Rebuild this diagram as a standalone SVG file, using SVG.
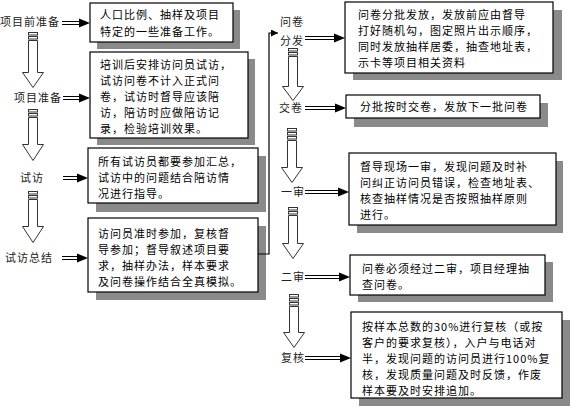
<svg xmlns="http://www.w3.org/2000/svg" width="570" height="408" viewBox="0 0 570 408">
<defs>
<style>
.box{fill:#fff;stroke:#000;stroke-width:1.2}
.sh{fill:#8a8a8a}
.t{font-family:"Noto Sans CJK SC","Noto Sans",sans-serif;font-size:11px;letter-spacing:1px;fill:#000}
.lb{font-family:"Noto Sans CJK SC","Noto Sans",sans-serif;font-size:11px;letter-spacing:1px;fill:#222}
.dl{stroke:#000;stroke-width:1;fill:none}
.hd{fill:#000}
.da{fill:#fff;stroke:#333;stroke-width:1}
.fb{fill:none;stroke:#000;stroke-width:1.2}
</style>
<marker id="ah" viewBox="0 0 10 10" refX="10" refY="5" markerWidth="7" markerHeight="7" orient="auto" markerUnits="userSpaceOnUse">
<path d="M0,0 L10,5 L0,10 z" fill="#000"/>
</marker>
</defs>
<rect width="570" height="408" fill="#fff"/>

<!-- nodes: left column -->
<g id="n1">
<rect class="sh" x="97" y="10" width="143" height="39"/>
<rect class="box" x="90" y="3" width="143" height="39"/>
<text class="t" x="100" y="19">人口比例、抽样及项目</text>
<text class="t" x="100" y="36">特定的一些准备工作。</text>
</g>
<g id="n2">
<rect class="sh" x="97" y="59" width="158" height="86"/>
<rect class="box" x="90" y="52" width="158" height="86"/>
<text class="t" x="100" y="69">培训后安排访问员试访，</text>
<text class="t" x="100" y="85">试访问卷不计入正式问</text>
<text class="t" x="100" y="101">卷，试访时督导应该陪</text>
<text class="t" x="100" y="117">访，陪访时应做陪访记</text>
<text class="t" x="100" y="133">录，检验培训效果。</text>
</g>
<g id="n3">
<rect class="sh" x="96" y="156" width="170" height="56"/>
<rect class="box" x="88" y="148" width="170" height="55"/>
<text class="t" x="98" y="166">所有试访员都要参加汇总，</text>
<text class="t" x="98" y="182">试访中的问题结合陪访情</text>
<text class="t" x="98" y="198">况进行指导。</text>
</g>
<g id="n4">
<rect class="sh" x="96" y="226" width="170" height="74"/>
<rect class="box" x="88" y="218" width="170" height="74"/>
<text class="t" x="98" y="238">访问员准时参加，复核督</text>
<text class="t" x="98" y="254">导参加；督导叙述项目要</text>
<text class="t" x="98" y="270">求，抽样办法，样本要求</text>
<text class="t" x="98" y="286">及问卷操作结合全真模拟。</text>
</g>

<!-- nodes: right column -->
<g id="n5">
<rect class="sh" x="353" y="10" width="209" height="70"/>
<rect class="box" x="345" y="2" width="208" height="71"/>
<text class="t" x="358" y="19">问卷分批发放，发放前应由督导</text>
<text class="t" x="358" y="35">打好随机勾，图定照片出示顺序，</text>
<text class="t" x="358" y="51">同时发放抽样居委，抽查地址表，</text>
<text class="t" x="358" y="67">示卡等项目相关资料</text>
</g>
<g id="n6">
<rect class="sh" x="354" y="103" width="194" height="24"/>
<rect class="box" x="346" y="95" width="194" height="23"/>
<text class="t" x="360" y="111">分批按时交卷，发放下一批问卷</text>
</g>
<g id="n7">
<rect class="sh" x="357" y="161" width="206" height="72"/>
<rect class="box" x="349" y="153" width="207" height="72"/>
<text class="t" x="360" y="171">督导现场一审，发现问题及时补</text>
<text class="t" x="360" y="187">问纠正访问员错误，检查地址表、</text>
<text class="t" x="360" y="203">核查抽样情况是否按照抽样原则</text>
<text class="t" x="360" y="219">进行。</text>
</g>
<g id="n8">
<rect class="sh" x="358" y="262" width="195" height="40"/>
<rect class="box" x="350" y="255" width="195" height="40"/>
<text class="t" x="362" y="273">问卷必须经过二审，项目经理抽</text>
<text class="t" x="362" y="289">查问卷。</text>
</g>
<g id="n9">
<rect class="sh" x="359" y="320" width="211" height="86"/>
<rect class="box" x="351" y="312" width="211" height="86"/>
<text class="t" x="362" y="331">按样本总数的30%进行复核（或按</text>
<text class="t" x="362" y="347">客户的要求复核），入户与电话对</text>
<text class="t" x="362" y="363">半，发现问题的访问员进行100%复</text>
<text class="t" x="362" y="379">核，发现质量问题及时反馈，作废</text>
<text class="t" x="362" y="395">样本要及时安排追加。</text>
</g>

<!-- step labels -->
<g id="s1"><text class="lb" x="0" y="26">项目前准备</text></g>
<g id="s2"><text class="lb" x="14" y="102">项目准备</text></g>
<g id="s3"><text class="lb" x="20" y="182">试访</text></g>
<g id="s4"><text class="lb" x="5" y="262">试访总结</text></g>
<g id="s5"><text class="lb" x="280" y="26">问卷</text><text class="lb" x="280" y="45">分发</text></g>
<g id="s6"><text class="lb" x="279" y="112">交卷</text></g>
<g id="s7"><text class="lb" x="281" y="196">一审</text></g>
<g id="s8"><text class="lb" x="281" y="281">二审</text></g>
<g id="s9"><text class="lb" x="281" y="362">复核</text></g>

<!-- connectors -->
<g id="connectors">
<g>
<path class="dl" d="M62,21.5H80M62,24.5H80"/><path class="hd" d="M79,18.5L90,23L79,27.5z"/>
<path class="dl" d="M63,96.5H80M63,99.5H80"/><path class="hd" d="M79,93.5L90,98L79,102.5z"/>
<path class="dl" d="M63,176.5H78M63,179.5H78"/><path class="hd" d="M77,173.5L88,178L77,182.5z"/>
<path class="dl" d="M62,256.5H78M62,259.5H78"/><path class="hd" d="M77,253.5L88,258L77,262.5z"/>
<path class="dl" d="M305,36.5H335M305,39.5H335"/><path class="hd" d="M334,33.5L345,38L334,42.5z"/>
<path class="dl" d="M305,106.5H336M305,109.5H336"/><path class="hd" d="M335,103.5L346,108L335,112.5z"/>
<path class="dl" d="M305,190.5H339M305,193.5H339"/><path class="hd" d="M338,187.5L349,192L338,196.5z"/>
<path class="dl" d="M305,275.5H340M305,278.5H340"/><path class="hd" d="M339,272.5L350,277L339,281.5z"/>
<path class="dl" d="M305,356.5H341M305,359.5H341"/><path class="hd" d="M340,353.5L351,358L340,362.5z"/>
</g>
<g>
<rect class="da" x="28.5" y="32.5" width="9" height="2.5"/><rect class="da" x="28.5" y="36.5" width="9" height="2.5"/>
<path class="da" d="M28.5,40.5V72.5H22.5L33,87.5L43.5,72.5H37.5V40.5z"/>
<rect class="da" x="28.5" y="109.5" width="9" height="2.5"/><rect class="da" x="28.5" y="113.5" width="9" height="2.5"/>
<path class="da" d="M28.5,117.5V144.5H22.5L33,160.5L43.5,144.5H37.5V117.5z"/>
<rect class="da" x="28.5" y="191.5" width="9" height="2.5"/><rect class="da" x="28.5" y="195.5" width="9" height="2.5"/>
<path class="da" d="M28.5,199.5V226.5H22.5L33,242.5L43.5,226.5H37.5V199.5z"/>
<rect class="da" x="288.5" y="48.5" width="9" height="2.5"/><rect class="da" x="288.5" y="52.5" width="9" height="2.5"/>
<path class="da" d="M288.5,56.5V86.5H282.5L293,100.5L303.5,86.5H297.5V56.5z"/>
<rect class="da" x="287.5" y="128.5" width="9" height="2.5"/><rect class="da" x="287.5" y="132.5" width="9" height="2.5"/><rect class="da" x="287.5" y="136.5" width="9" height="2.5"/>
<path class="da" d="M287.5,140.5V167.5H281.5L292,182.5L302.5,167.5H296.5V140.5z"/>
<rect class="da" x="288.5" y="207.5" width="9" height="2.5"/><rect class="da" x="288.5" y="211.5" width="9" height="2.5"/>
<path class="da" d="M288.5,215.5V243.5H282.5L293,258.5L303.5,243.5H297.5V215.5z"/>
<rect class="da" x="289.5" y="294.5" width="9" height="2.5"/><rect class="da" x="289.5" y="298.5" width="9" height="2.5"/><rect class="da" x="289.5" y="302.5" width="9" height="2.5"/>
<path class="da" d="M289.5,306.5V332.5H283.5L294,347.5L304.5,332.5H298.5V306.5z"/>
</g>
<path class="fb" d="M258,254H269V33H278" marker-end="url(#ah)"/>
</g>
</svg>
